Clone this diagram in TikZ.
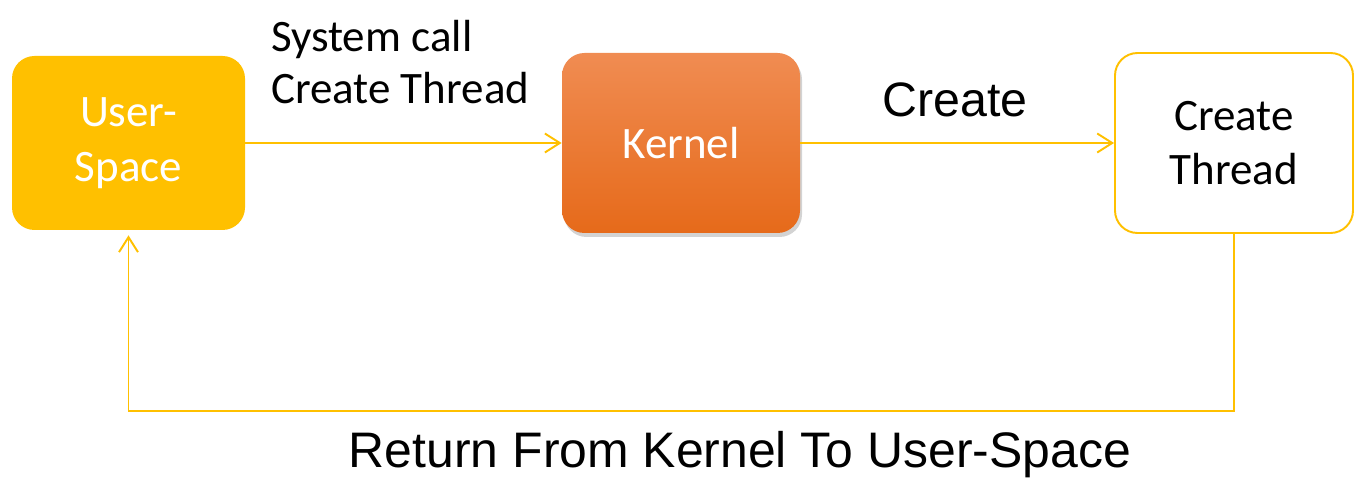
\documentclass[tikz,border=0pt]{standalone}
\usepackage{fontspec}
\setmainfont{Carlito}
\newfontfamily\labelfont{Liberation Sans}
\usepackage{tikz}
\usetikzlibrary{arrows.meta,positioning,shadows}
\definecolor{usergold}{RGB}{255,192,0}
\definecolor{kerneltop}{RGB}{240,140,82}
\definecolor{kernelbot}{RGB}{230,106,26}

\begin{document}
\begin{tikzpicture}[
    box/.style={rounded corners=0.45cm, minimum height=3.6cm, minimum width=4.76cm, align=center, font=\fontsize{25.6}{31}\selectfont},
    arr/.style={-{Straight Barb[length=3mm, width=3.8mm]}, line width=1.1pt, draw=usergold}
]
\useasboundingbox (0,0) rectangle (27.36,-9.82);
% Boxes
\node[box, fill=usergold, text=white, minimum height=3.48cm, minimum width=4.66cm] (user) at (2.57,-2.86) {User-\\Space};
\node[box, top color=kerneltop, bottom color=kernelbot, text=white, drop shadow={shadow xshift=0.04cm, shadow yshift=-0.08cm, opacity=0.35}] (kernel) at (13.62,-2.86) {Kernel};
\node[box, draw=usergold, line width=1.1pt, fill=white] (thread) at (24.68,-2.86) {Create\\Thread};

% Labels
\node[anchor=west, align=left, font=\fontsize{25.6}{30}\selectfont] (syscall) at (5.3,-1.24) {System call\\Create Thread};
\node[font=\labelfont\fontsize{27.5}{33}\selectfont] (create) at (19.1,-2.0) {Create};
\node[font=\labelfont\fontsize{28.4}{34}\selectfont] (ret) at (14.8,-9.1) {Return From Kernel To User-Space};

% Connectors
\draw[arr] (user) -- (kernel);
\draw[arr] (kernel) -- (thread);
\draw[arr, shorten >=0.1cm] (thread.south) -- ++(0,-3.54) -| (user.south);
\end{tikzpicture}
\end{document}
